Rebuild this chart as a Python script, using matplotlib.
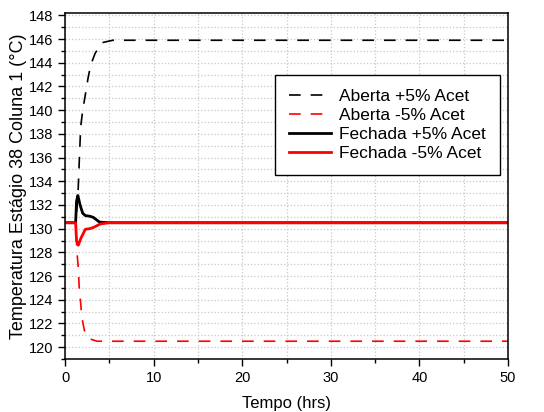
import matplotlib
matplotlib.use("Agg")
import matplotlib.pyplot as plt
from matplotlib.ticker import MultipleLocator

plt.rcParams['font.family'] = ['Liberation Sans', 'DejaVu Sans']

# step responses, +/-5% acetone disturbance at t ~ 1.2 h
t_ab_pos = [0, 1.2, 1.35, 1.47, 1.6, 1.77, 2.0, 2.25, 2.6, 2.9, 3.4, 4.2, 5.4, 50]
ab_pos = [130.5, 130.5, 131.8, 133.0, 135.5, 138.6, 140.0, 141.1, 142.7, 143.8, 144.8, 145.7, 145.9, 145.9]

t_ab_neg = [0, 1.2, 1.35, 1.5, 1.6, 1.77, 1.9, 2.25, 2.8, 3.6, 50]
ab_neg = [130.5, 130.5, 128.0, 126.7, 125.1, 123.7, 122.5, 121.2, 120.7, 120.5, 120.5]

t_fe_pos = [0, 1.2, 1.3, 1.45, 1.7, 2.0, 2.3, 2.8, 3.2, 3.9, 5, 50]
fe_pos = [130.5, 130.5, 132.3, 132.8, 132.0, 131.3, 131.1, 131.05, 130.95, 130.55, 130.5, 130.5]

t_fe_neg = [0, 1.2, 1.3, 1.5, 1.8, 2.3, 2.8, 3.2, 4, 5, 50]
fe_neg = [130.5, 130.5, 129.0, 128.6, 129.2, 129.95, 130.0, 130.1, 130.4, 130.5, 130.5]

fig = plt.figure(figsize=(5.44, 4.12), dpi=100)
ax = fig.add_axes([65/544, 1 - 359/412, 443/544, 346/412])

ax.plot(t_ab_pos, ab_pos, color='black', lw=1.2, dashes=(7, 6), label='Aberta +5% Acet')
ax.plot(t_ab_neg, ab_neg, color='red', lw=1.2, dashes=(7, 6), label='Aberta -5% Acet')
ax.plot(t_fe_pos, fe_pos, color='black', lw=2, label='Fechada +5% Acet')
ax.plot(t_fe_neg, fe_neg, color='red', lw=2, label='Fechada -5% Acet')

ax.set_xlim(0, 50)
ax.set_ylim(119, 148.2)
ax.xaxis.set_major_locator(MultipleLocator(10))
ax.xaxis.set_minor_locator(MultipleLocator(5))
ax.yaxis.set_major_locator(MultipleLocator(2))
ax.yaxis.set_minor_locator(MultipleLocator(1))
ax.tick_params(which='major', direction='out', length=5, width=1, labelsize=10.5)
ax.tick_params(which='minor', direction='out', length=3, width=1)
ax.grid(which='both', color='#c8c8c8', linestyle=':', linewidth=0.9)
ax.set_axisbelow(True)
for s in ax.spines.values():
    s.set_linewidth(1.1)

ax.set_xlabel('Tempo (hrs)', fontsize=12, labelpad=8)
ax.set_ylabel('Temperatura Estágio 38 Coluna 1 (°C)', fontsize=13, labelpad=1)

leg = ax.legend(loc='upper left', bbox_to_anchor=(0.474, 0.82), fontsize=12.5,
                frameon=True, fancybox=False, edgecolor='black', framealpha=1,
                handlelength=2.4, handletextpad=0.5, borderpad=0.8,
                labelspacing=0.22, borderaxespad=0)
leg.get_frame().set_linewidth(1.0)

fig.savefig('out.png', dpi=100)
